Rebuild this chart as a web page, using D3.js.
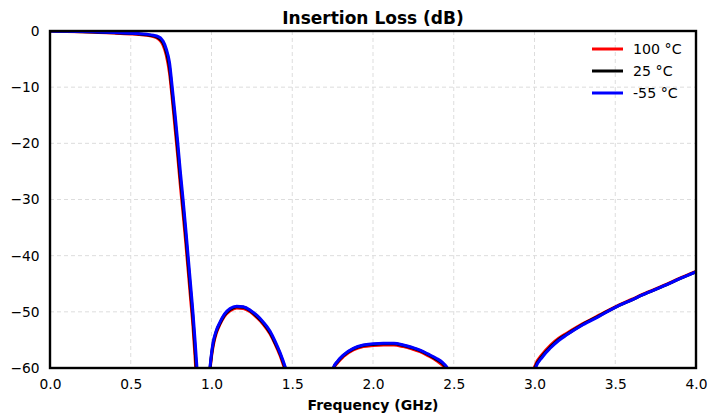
<!DOCTYPE html>
<html><head><meta charset="utf-8">
<script src="https://cdn.jsdelivr.net/npm/d3@7"></script>
<style>
html,body{margin:0;padding:0;background:#fff;}
svg{display:block;font-family:"DejaVu Sans",sans-serif;}
</style></head>
<body>
<svg id="chart" width="709" height="420"></svg>
<script>
const freqGHz = [0,0.1,0.2,0.3,0.4,0.5,0.55,0.6,0.64,0.67,0.69,0.70,0.72,0.74,0.755,0.775,0.79,0.807,0.824,0.84,0.855,0.87,0.885,0.898,0.91,0.93,0.95,
  0.97,0.985,0.991,1.0,1.011,1.03,1.053,1.08,1.115,1.156,1.197,1.24,1.28,1.32,1.362,1.395,1.425,1.46,1.5,1.6,
  1.7,1.754,1.78,1.816,1.878,1.94,2.0,2.064,2.13,2.188,2.24,2.291,2.34,2.394,2.43,2.456,2.5,2.6,
  2.9,3.0,3.05,3.1,3.15,3.2,3.3,3.4,3.5,3.6,3.7,3.8,3.9,4.0];
const loss100C = [0,-0.07,-0.15,-0.25,-0.37,-0.52,-0.62,-0.78,-1.0,-1.4,-2.0,-2.5,-4.3,-7.5,-11.5,-17.5,-22,-27.5,-32.5,-37.5,-42.5,-47.5,-52.5,-58,-64,-75,-90,
  -90,-63,-60.5,-58,-56,-53.8,-52.2,-50.8,-49.8,-49.3,-49.4,-50.0,-51.0,-52.2,-53.9,-55.8,-57.8,-60.8,-64,-80,
  -80,-60.3,-59.1,-58,-56.8,-56.2,-56.0,-55.9,-55.9,-56.2,-56.6,-57.1,-57.8,-58.7,-59.5,-60.4,-64,-80,
  -80,-59.8,-57.5,-55.9,-54.7,-53.8,-52.1,-50.6,-49.1,-47.8,-46.5,-45.3,-44.0,-42.8];
const loss25C = [0,-0.06,-0.12,-0.21,-0.31,-0.45,-0.54,-0.68,-0.87,-1.2,-1.7,-2.1,-3.7,-6.5,-10.5,-16.2,-20.8,-26.2,-31.2,-36.2,-41.2,-46.2,-51.2,-56.5,-62,-72,-90,
  -90,-62.5,-60.1,-57.7,-55.6,-53.5,-52.0,-50.6,-49.6,-49.1,-49.2,-49.8,-50.8,-52.0,-53.7,-55.6,-57.5,-60.4,-64,-80,
  -80,-60.1,-58.9,-57.8,-56.6,-56.0,-55.8,-55.7,-55.7,-56.0,-56.4,-56.9,-57.6,-58.5,-59.2,-60.1,-63,-80,
  -80,-60.2,-57.8,-56.2,-54.9,-54.0,-52.2,-50.7,-49.2,-47.9,-46.6,-45.4,-44.1,-42.9];
const lossM55C = [0,-0.05,-0.1,-0.17,-0.26,-0.38,-0.46,-0.58,-0.75,-1.0,-1.4,-1.8,-3.2,-5.6,-9.5,-15,-19.5,-25,-30,-35,-40,-45,-50,-55,-60,-70,-90,
  -90,-62,-59.8,-57.4,-55.3,-53.3,-51.8,-50.4,-49.4,-49.0,-49.1,-49.7,-50.6,-51.8,-53.4,-55.3,-57.3,-60.1,-64,-80,
  -80,-60,-58.8,-57.7,-56.5,-55.9,-55.7,-55.6,-55.6,-55.9,-56.3,-56.8,-57.5,-58.3,-59.0,-59.8,-63,-80,
  -80,-60.5,-58,-56.4,-55.1,-54.1,-52.3,-50.8,-49.2,-47.9,-46.6,-45.4,-44.1,-42.9];
const seriesNames = ["100 °C","25 °C","-55 °C"];
const seriesColors = ["#ff0000","#000000","#0000ff"];
const xTicks = [0,0.5,1.0,1.5,2.0,2.5,3.0,3.5,4.0];
const yTicks = [0,-10,-20,-30,-40,-50,-60];

const W = 709, H = 420;
const m = {top:31, right:13, bottom:52, left:50};
const iw = W - m.left - m.right, ih = H - m.top - m.bottom;
const svg = d3.select("#chart");
const g = svg.append("g").attr("transform",`translate(${m.left},${m.top})`);
const x = d3.scaleLinear().domain([0,4]).range([0,iw]);
const y = d3.scaleLinear().domain([-60,0]).range([ih,0]);

// grid
g.append("g").selectAll("line").data(xTicks.slice(1,-1)).join("line")
  .attr("x1",d=>x(d)).attr("x2",d=>x(d)).attr("y1",0).attr("y2",ih)
  .attr("stroke","#dddddd").attr("stroke-width",1).attr("stroke-dasharray","4,3");
g.append("g").selectAll("line").data(yTicks.slice(1,-1)).join("line")
  .attr("y1",d=>y(d)).attr("y2",d=>y(d)).attr("x1",0).attr("x2",iw)
  .attr("stroke","#dddddd").attr("stroke-width",1).attr("stroke-dasharray","4,3");

svg.append("defs").append("clipPath").attr("id","clip")
  .append("rect").attr("x",0).attr("y",0).attr("width",iw).attr("height",ih);

const series = [loss100C, loss25C, lossM55C];
const line = d3.line().x(d=>x(d[0])).y(d=>y(d[1])).curve(d3.curveMonotoneX);
const lg = g.append("g").attr("clip-path","url(#clip)");
series.forEach((s,i)=>{
  lg.append("path").datum(freqGHz.map((f,j)=>[f,s[j]]))
    .attr("d",line).attr("fill","none")
    .attr("stroke",seriesColors[i]).attr("stroke-width",3)
    .attr("stroke-linejoin","round");
});

// frame
g.append("rect").attr("x",0).attr("y",0).attr("width",iw).attr("height",ih)
  .attr("fill","none").attr("stroke","#000").attr("stroke-width",2.4);

// axes
const xa = g.append("g").attr("transform",`translate(0,${ih})`)
  .call(d3.axisBottom(x).tickValues(xTicks).tickFormat(d3.format(".1f")).tickSize(0).tickPadding(11));
xa.select(".domain").remove();
xa.selectAll("text").attr("font-size",13.8).attr("font-family","DejaVu Sans").attr("fill","#000");
const ya = g.append("g")
  .call(d3.axisLeft(y).tickValues(yTicks).tickFormat(d3.format("d")).tickSize(0).tickPadding(10.5));
ya.select(".domain").remove();
ya.selectAll("text").attr("font-size",13.8).attr("font-family","DejaVu Sans").attr("fill","#000");

svg.append("text").attr("x",m.left+iw/2).attr("y",23.5).attr("text-anchor","middle")
  .attr("font-size",17).attr("font-weight","bold").text("Insertion Loss (dB)");
svg.append("text").attr("x",m.left+iw/2).attr("y",409.5).attr("text-anchor","middle")
  .attr("font-size",14).attr("font-weight","bold").text("Frequency (GHz)");

// legend
const leg = svg.append("g");
seriesNames.forEach((n,i)=>{
  const yy = 49 + i*22;
  leg.append("line").attr("x1",592).attr("x2",623).attr("y1",yy).attr("y2",yy)
    .attr("stroke",seriesColors[i]).attr("stroke-width",3);
  leg.append("text").attr("x",633).attr("y",yy+5.2).attr("font-size",14.2).text(n);
});
</script>
</body></html>
